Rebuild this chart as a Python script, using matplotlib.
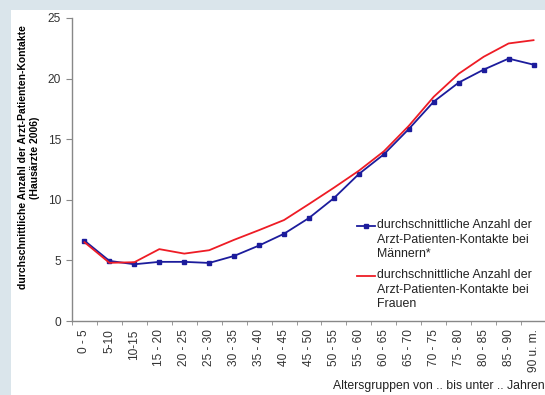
import numpy as np
import matplotlib.pyplot as plt
from matplotlib.patches import Rectangle
from matplotlib.lines import Line2D

plt.rcParams["font.family"] = ["Liberation Sans", "DejaVu Sans"]

# Altersgruppen und durchschnittliche Kontakte je Patient
age_groups = ["0 - 5", "5-10", "10-15", "15 - 20", "20 - 25", "25 - 30", "30 - 35",
              "35 - 40", "40 - 45", "45 - 50", "50 - 55", "55 - 60", "60 - 65",
              "65 - 70", "70 - 75", "75 - 80", "80 - 85", "85 - 90", "90 u. m."]
men = [6.63, 4.96, 4.68, 4.88, 4.88, 4.79, 5.37, 6.23, 7.2, 8.5, 10.14, 12.13,
       13.75, 15.84, 18.1, 19.67, 20.74, 21.65, 21.15]
women = [6.5, 4.8, 4.85, 5.93, 5.56, 5.84, 6.7, 7.5, 8.33, 9.65, 11.0, 12.4,
         14.0, 16.1, 18.5, 20.4, 21.8, 22.9, 23.17]

label_men = "durchschnittliche Anzahl der\nArzt-Patienten-Kontakte bei\nMännern*"
label_women = "durchschnittliche Anzahl der\nArzt-Patienten-Kontakte bei\nFrauen"

W, H = 545, 395


def fx(px):
    return px / W


def fy(py):
    return 1 - py / H


fig = plt.figure(figsize=(W / 100, H / 100), dpi=100)
fig.patch.set_facecolor("#dae5eb")
# weisse Flaeche hinter dem Diagramm
fig.patches.append(Rectangle((fx(11), 0), 1, fy(10), transform=fig.transFigure,
                             facecolor="white", edgecolor="none", zorder=-5))

ax = fig.add_axes([fx(72), fy(321), 474 / W, 303 / H])
ax.set_facecolor("none")

x = np.arange(len(age_groups))
blue = "#1c1c9c"
red = "#ee1c25"
ax.plot(x, men, color=blue, lw=1.3, marker="s", markersize=3.2)
ax.plot(x, women, color=red, lw=1.3)

ax.set_xlim(-0.5, len(age_groups) - 0.5)
ax.set_ylim(0, 25)
ax.set_yticks([0, 5, 10, 15, 20, 25])
ax.set_xticks(x)
ax.set_xticklabels(age_groups, rotation=90, fontsize=8.6, color="#333333")
ax.set_xticks(np.arange(-0.5, len(age_groups)), minor=True)
ax.tick_params(axis="x", which="major", length=0, pad=6)
ax.tick_params(axis="x", which="minor", length=3, color="#888888")
ax.tick_params(axis="y", length=4, color="#888888", labelsize=8.6, labelcolor="#333333", pad=4)

for side in ["top", "right"]:
    ax.spines[side].set_visible(False)
for side in ["left", "bottom"]:
    ax.spines[side].set_color("#888888")
    ax.spines[side].set_linewidth(1.0)

ax.set_ylabel("durchschnittliche Anzahl der Arzt-Patienten-Kontakte\n(Hausärzte 2006)",
              fontsize=7.5, fontweight="bold", linespacing=1.25)
ax.yaxis.set_label_coords(-0.068, 0.54)

fig.text(1.0, fy(386), "Altersgruppen von .. bis unter .. Jahren",
         ha="right", va="center", fontsize=8.8, color="#222222")

# Legende: Linie neben der ersten Textzeile
for label, color, marker, top in [(label_men, blue, "s", 219), (label_women, red, "", 269)]:
    fig.add_artist(Line2D([fx(357), fx(375)], [fy(top + 7)] * 2, transform=fig.transFigure,
                          color=color, lw=1.3))
    if marker:
        fig.add_artist(Line2D([fx(366)], [fy(top + 7)], transform=fig.transFigure,
                              color=color, marker=marker, markersize=3.2))
    fig.text(fx(377), fy(top), label, ha="left", va="top", fontsize=8.9,
             linespacing=1.3, color="#222222")

fig.savefig("out.png", dpi=100)
